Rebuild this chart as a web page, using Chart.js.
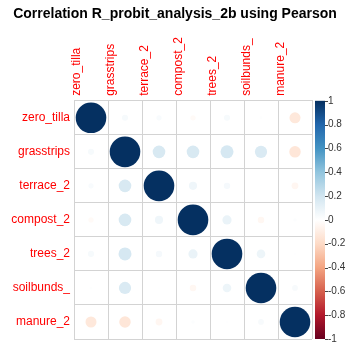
<!DOCTYPE html>
<html>
<head>
<meta charset="utf-8">
<script src="https://cdn.jsdelivr.net/npm/chart.js@4.4.0/dist/chart.umd.min.js"></script>
<style>
  html, body { margin: 0; padding: 0; background: #fff; }
  #wrap { width: 350px; height: 352px; }
</style>
</head>
<body>
<div id="wrap"><canvas id="corrChart"></canvas></div>
<script>
// variables of the correlation matrix (row / column order)
const variables = ['zero_tilla', 'grasstrips', 'terrace_2', 'compost_2', 'trees_2', 'soilbunds_', 'manure_2'];

// one row per variable
const zeroTilla  = [1, 0.04, 0.03, -0.03, 0.04, 0.01, -0.13];
const grasstrips = [0.04, 1, 0.17, 0.17, 0.18, 0.16, -0.14];
const terrace2   = [0.03, 0.17, 1, 0.07, 0.044, 0.003, -0.05];
const compost2   = [-0.03, 0.17, 0.07, 1, 0.09, -0.045, 0.012];
const trees2     = [0.04, 0.18, 0.044, 0.09, 1, 0.08, 0.006];
const soilbunds  = [0.01, 0.16, 0.003, -0.045, 0.08, 1, 0.035];
const manure2    = [-0.13, -0.14, -0.05, 0.012, 0.006, 0.035, 1];
const corrRows = [zeroTilla, grasstrips, terrace2, compost2, trees2, soilbunds, manure2];

// colour bar tick values
const legendTicks = [-1, -0.8, -0.6, -0.4, -0.2, 0, 0.2, 0.4, 0.6, 0.8, 1];

// RdBu palette from -1 to 1 (corrplot COL2)
const palette = ['#67001F', '#B2182B', '#D6604D', '#F4A582', '#FDDBC7', '#FFFFFF',
                 '#D1E5F0', '#92C5DE', '#4393C3', '#2166AC', '#053061'];

function hexToRgb(h) {
    return [parseInt(h.slice(1, 3), 16), parseInt(h.slice(3, 5), 16), parseInt(h.slice(5, 7), 16)];
}

function corrColor(v) {
    const pos = (Math.max(-1, Math.min(1, v)) + 1) / 2 * (palette.length - 1);
    const i = Math.min(Math.floor(pos), palette.length - 2);
    const t = pos - i;
    const a = hexToRgb(palette[i]), b = hexToRgb(palette[i + 1]);
    const c = a.map((x, k) => Math.round(x + (b[k] - x) * t));
    return `rgb(${c[0]}, ${c[1]}, ${c[2]})`;
}

const points = [];
corrRows.forEach((row, r) => {
    row.forEach((v, c) => {
        points.push({ x: variables[c], y: variables[r], v: v });
    });
});

// draws the colour legend next to the grid, using the y2 scale
const colorBar = {
    id: 'colorBar',
    afterDraw(chart) {
        const ctx = chart.ctx;
        const scale = chart.scales.y2;
        const x0 = chart.chartArea.right + 3;
        const top = scale.getPixelForValue(1);
        const bottom = scale.getPixelForValue(-1);
        const grad = ctx.createLinearGradient(0, bottom, 0, top);
        palette.forEach((col, i) => grad.addColorStop(i / (palette.length - 1), col));
        ctx.save();
        ctx.fillStyle = grad;
        ctx.fillRect(x0, top, 10, bottom - top);
        ctx.strokeStyle = '#444';
        ctx.lineWidth = 1;
        legendTicks.forEach(t => {
            const y = Math.round(scale.getPixelForValue(t)) + 0.5;
            ctx.beginPath();
            ctx.moveTo(x0 + 10, y);
            ctx.lineTo(x0 + 13, y);
            ctx.stroke();
        });
        ctx.restore();
    }
};

Chart.defaults.font.family = "'Liberation Sans', Arial, sans-serif";

// circle area follows |r|, as corrplot does
function circleRadius(ctx) {
    const area = ctx.chart.chartArea;
    if (!area || !ctx.raw) return 0;
    const cell = (area.right - area.left) / variables.length;
    return Math.sqrt(Math.abs(ctx.raw.v)) * cell * 0.45;
}

new Chart(document.getElementById('corrChart'), {
    type: 'scatter',
    data: {
        datasets: [{
            data: points,
            showLine: false,
            pointBackgroundColor: ctx => ctx.raw ? corrColor(ctx.raw.v) : '#fff',
            pointBorderWidth: 0,
            pointRadius: circleRadius,
            pointHoverRadius: circleRadius
        }]
    },
    plugins: [colorBar],
    options: {
        responsive: true,
        maintainAspectRatio: false,
        animation: false,
        events: [],
        layout: { padding: { left: 0, right: 0, top: 0, bottom: 13 } },
        plugins: {
            legend: { display: false },
            tooltip: { enabled: false },
            title: {
                display: true,
                text: 'Correlation R_probit_analysis_2b using Pearson',
                color: '#000',
                font: { size: 14, weight: 'bold' },
                padding: { top: 6, bottom: 0 }
            }
        },
        scales: {
            x: {
                type: 'category',
                labels: variables,
                position: 'top',
                offset: true,
                grid: { offset: true, color: '#d3d3d3', drawTicks: false },
                border: { color: '#d3d3d3' },
                ticks: { color: 'red', font: { size: 12 }, minRotation: 90, maxRotation: 90, padding: 5, autoSkip: false },
                afterFit: s => { s.height = 78; }
            },
            y: {
                type: 'category',
                labels: variables,
                offset: true,
                grid: { offset: true, color: '#d3d3d3', drawTicks: false },
                border: { color: '#d3d3d3' },
                ticks: { color: 'red', font: { size: 12 }, padding: 4, autoSkip: false },
                afterFit: s => { s.width = 74; s.paddingTop = 0; s.paddingBottom = 0; }
            },
            y2: {
                type: 'linear',
                position: 'right',
                min: -1,
                max: 1,
                grid: { display: false, drawTicks: false },
                border: { display: false },
                ticks: {
                    stepSize: 0.2,
                    color: '#333',
                    font: { size: 10 },
                    padding: 16,
                    callback: v => String(+v.toFixed(1))
                },
                afterFit: s => { s.width = 38; s.paddingTop = 0; s.paddingBottom = 0; }
            }
        }
    }
});
</script>
</body>
</html>
